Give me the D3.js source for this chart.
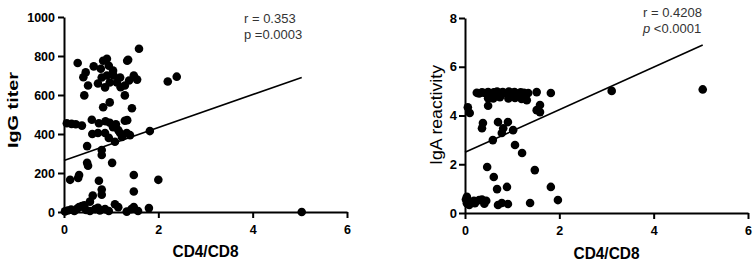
<!DOCTYPE html>
<html>
<head>
<meta charset="utf-8">
<script src="https://cdn.jsdelivr.net/npm/d3@7"></script>
<style>
  html, body { margin: 0; padding: 0; background: #fff; }
  svg { display: block; }
  .tick text { font-family: "Liberation Sans", Arial, sans-serif; font-weight: 700; font-size: 12.5px; fill: #000; }
  .domain, .tick line { stroke: #000; stroke-width: 2; }
</style>
</head>
<body>
<svg id="chart" width="754" height="267"></svg>
<script>
// ---- data: [CD4/CD8, value] ----
const iggPoints = [
  [0.29,764],[0.46,716],[0.41,691],[0.51,649],[0.43,598],[0.63,747],[0.83,776],[0.91,786],
  [0.78,735],[0.72,659],[0.91,700],[1.04,725],[0.97,664],[1.12,664],[1.19,690],[0.87,639],
  [1.29,649],[1.34,776],[0.97,562],[0.83,537],[1.29,598],[1.59,837],[1.36,781],[1.48,700],
  [1.55,679],[1.38,674],[1.44,532],[2.20,669],[2.39,694],[0.80,690],[1.05,700],[0.95,750],[1.20,640],
  [0.06,455],[0.16,452],[0.25,450],[0.38,443],[0.59,473],[0.74,455],[0.88,465],[0.97,458],
  [1.05,440],[1.29,468],[1.34,471],[1.10,450],
  [0.72,405],[0.87,405],[1.04,435],[1.15,420],[1.33,405],[1.40,394],[1.19,405],[1.08,360],
  [1.23,385],[1.82,415],[0.60,400],[0.95,380],
  [0.49,338],[0.80,318],[0.80,292],[0.49,252],[0.51,237],[1.02,252],[0.13,165],[0.32,190],
  [0.30,175],[0.74,160],[0.80,115],[0.80,89],[0.61,84],[0.55,53],[1.48,190],[1.48,105],[2.00,165],
  [0.02,3],[0.08,8],[0.15,12],[0.22,5],[0.28,18],[0.32,25],[0.38,30],[0.43,35],[0.47,10],
  [0.55,5],[0.66,15],[0.72,22],[0.76,8],[0.87,15],[0.95,5],[1.08,40],[1.15,25],[1.33,2],
  [1.43,15],[1.48,25],[1.57,5],[1.80,20],[5.04,0]
];
const igaPoints = [
  [0.25,4.93],[0.30,4.90],[0.36,4.95],[0.42,4.92],[0.49,4.96],[0.55,4.90],[0.61,4.95],[0.68,4.98],
  [0.74,4.92],[0.80,4.96],[0.87,4.90],[0.93,4.98],[0.99,4.93],[1.05,4.96],[1.12,4.90],[1.18,4.95],
  [1.25,4.93],[1.34,4.92],[1.52,4.96],[1.82,4.92],
  [0.49,4.71],[0.60,4.70],[0.74,4.75],[0.92,4.70],[1.06,4.72],[1.20,4.68],[1.31,4.63],[0.49,4.40],
  [1.59,4.43],[1.52,4.22],[1.59,4.14],[3.11,5.01],[5.04,5.07],
  [0.06,4.34],[0.10,4.10],
  [0.38,3.69],[0.36,3.48],[0.70,3.73],[0.91,3.73],[0.81,3.48],[0.78,3.28],[1.02,3.40],[0.59,2.99],
  [1.06,2.79],[1.21,2.46],[0.47,1.89],[0.61,1.48],[0.68,0.98],[0.89,1.07],[1.48,1.76],[1.82,1.07],
  [0.70,0.33],[0.78,0.41],[0.91,0.37],[1.38,0.41],[1.97,0.53],[0.04,0.66],[0.04,0.40],[0.09,0.33],
  [0.13,0.45],[0.19,0.50],[0.21,0.40],[0.30,0.53],[0.36,0.55],[0.41,0.38],[0.45,0.50],[0.02,0.55]
];
// regression lines: [intercept, slope, xEnd]
const iggFit = [264, 84.5, 5.04];
const igaFit = [2.49, 0.873, 5.04];

const xTicks = [0, 2, 4, 6];
const iggTicks = [0, 200, 400, 600, 800, 1000];
const igaTicks = [0, 2, 4, 6, 8];

const FONT = '"Liberation Sans", Arial, sans-serif';
const svg = d3.select('#chart');

function panel(cfg) {
  const x = d3.scaleLinear().domain([0, 6]).range([cfg.x0, cfg.x1]);
  const y = d3.scaleLinear().domain(cfg.yDomain).range([cfg.yBottom, cfg.yTop]);
  const g = svg.append('g');

  g.append('g')
    .attr('transform', `translate(0,${cfg.yBottom})`)
    .call(d3.axisBottom(x).tickValues(xTicks).tickSize(6).tickSizeOuter(0).tickPadding(7).tickFormat(d3.format('d')));
  g.append('g')
    .attr('transform', `translate(${cfg.x0},0)`)
    .call(d3.axisLeft(y).tickValues(cfg.yTicks).tickSize(6).tickSizeOuter(0).tickPadding(cfg.yPad).tickFormat(d3.format('d')))
    .selectAll('.tick text').style('font-size', cfg.yTickSize);

  // regression line
  const [b, m, xe] = cfg.fit;
  g.append('line')
    .attr('x1', x(0)).attr('y1', y(b))
    .attr('x2', x(xe)).attr('y2', y(b + m * xe))
    .attr('stroke', '#000').attr('stroke-width', 1.6);

  g.selectAll('circle.pt').data(cfg.points).join('circle')
    .attr('class', 'pt')
    .attr('cx', d => x(d[0])).attr('cy', d => y(d[1]))
    .attr('r', 4.3).attr('fill', '#000');

  // axis titles
  g.append('text')
    .attr('x', (cfg.x0 + cfg.x1) / 2).attr('y', cfg.xLabelY)
    .attr('text-anchor', 'middle')
    .attr('font-family', FONT).attr('font-weight', 700).attr('font-size', 17)
    .attr('textLength', 66).attr('lengthAdjust', 'spacingAndGlyphs')
    .text('CD4/CD8');
  g.append('text')
    .attr('transform', `translate(${cfg.yLabelX},${cfg.yLabelMid}) rotate(-90)`)
    .attr('text-anchor', 'middle')
    .attr('font-family', FONT).attr('font-weight', cfg.yLabelWeight).attr('font-size', cfg.yLabelSize)
    .attr('textLength', cfg.yLabelLen).attr('lengthAdjust', 'spacingAndGlyphs')
    .text(cfg.yLabel);

  // statistics
  const st = g.append('g').attr('font-family', FONT).attr('font-size', 13).attr('fill', '#333');
  st.append('text').attr('x', cfg.statX).attr('y', cfg.statY).text(cfg.rText);
  const p = st.append('text').attr('x', cfg.statX).attr('y', cfg.statY + 16);
  p.append('tspan').attr('font-style', cfg.pItalic ? 'italic' : 'normal').text('p');
  p.append('tspan').text(cfg.pText);
}

panel({
  x0: 64, x1: 347, yTop: 17, yBottom: 212, yDomain: [0, 1000], yTicks: iggTicks, yPad: 3, yTickSize: '12.5px',
  points: iggPoints, fit: iggFit, xLabelY: 257,
  yLabel: 'IgG titer', yLabelX: 18, yLabelMid: 110, yLabelSize: 15, yLabelWeight: 700, yLabelLen: 76,
  statX: 244, statY: 23, rText: 'r = 0.353', pText: ' =0.0003', pItalic: false
});
panel({
  x0: 465, x1: 748, yTop: 18, yBottom: 213, yDomain: [0, 8], yTicks: igaTicks, yPad: 2, yTickSize: '13px',
  points: igaPoints, fit: igaFit, xLabelY: 259,
  yLabel: 'IgA reactivity', yLabelX: 442, yLabelMid: 115, yLabelSize: 16, yLabelWeight: 400, yLabelLen: 100,
  statX: 643, statY: 17, rText: 'r = 0.4208', pText: ' <0.0001', pItalic: true
});
</script>
</body>
</html>
